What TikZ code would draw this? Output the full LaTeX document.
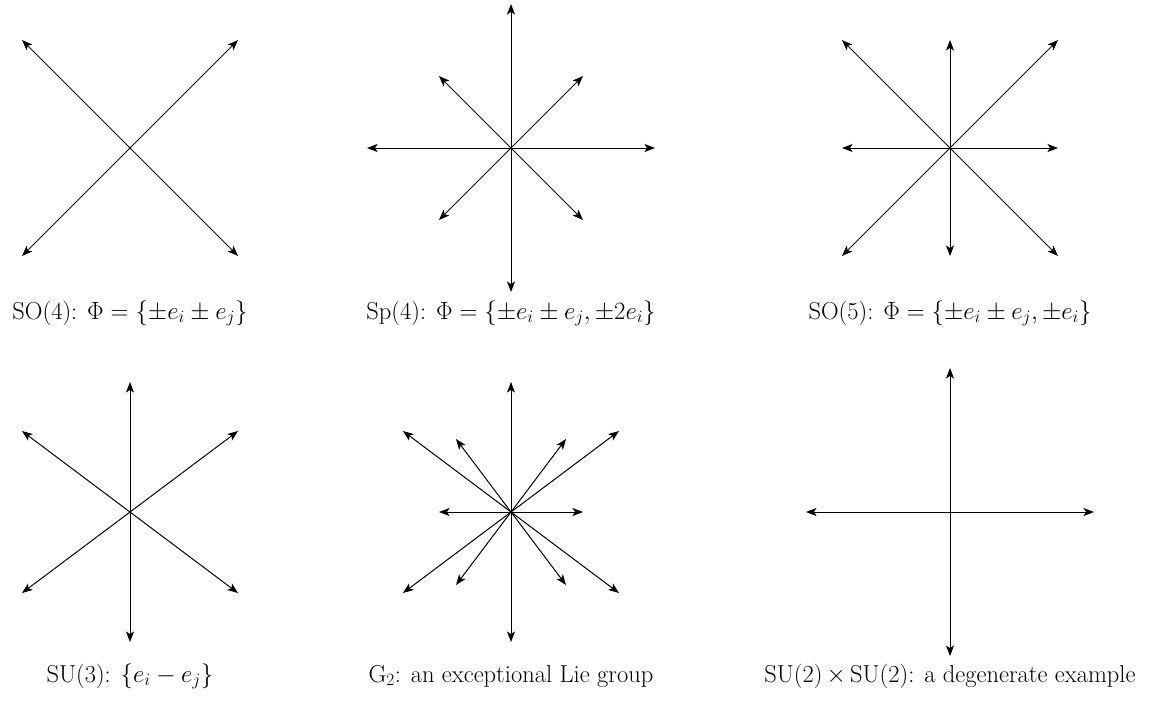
\documentclass[tikz,border=0pt]{standalone}
\usetikzlibrary{arrows.meta}
\begin{document}
\begin{tikzpicture}[x=1pt,y=-1pt,
  root/.style={line width=1pt,{Stealth[length=10.5pt,width=8pt,inset=2.5pt]}-{Stealth[length=10.5pt,width=8pt,inset=2.5pt]}},
  lab/.style={anchor=base,inner sep=0pt,font=\fontsize{24.5}{28}\selectfont}]
\useasboundingbox (0,0) rectangle (1161,702);
% ---------- Panel 1: SO(4)
\coordinate (c1) at (130,148);
\path (c1) ++(-108,-108) coordinate (p1ul) (c1) ++(108,108) coordinate (p1lr)
      (c1) ++(108,-108) coordinate (p1ur) (c1) ++(-108,108) coordinate (p1ll);
\draw[root] (p1ul) -- (p1lr);
\draw[root] (p1ur) -- (p1ll);
\node[lab] (l1) at (130,319) {SO(4): $\Phi=\{\pm e_i\pm e_j\}$};
% ---------- Panel 2: Sp(4)
\coordinate (c2) at (511,148);
\path (c2) ++(0,-144) coordinate (p2t) (c2) ++(0,144) coordinate (p2b)
      (c2) ++(-144,0) coordinate (p2l) (c2) ++(144,0) coordinate (p2r)
      (c2) ++(-72,-72) coordinate (p2ul) (c2) ++(72,72) coordinate (p2lr)
      (c2) ++(72,-72) coordinate (p2ur) (c2) ++(-72,72) coordinate (p2ll);
\draw[root] (p2t) -- (p2b);
\draw[root] (p2l) -- (p2r);
\draw[root] (p2ul) -- (p2lr);
\draw[root] (p2ur) -- (p2ll);
\node[lab] (l2) at (511,319) {Sp(4): $\Phi=\{\pm e_i\pm e_j,\pm 2e_i\}$};
% ---------- Panel 3: SO(5)
\coordinate (c3) at (950,148);
\path (c3) ++(0,-108) coordinate (p3t) (c3) ++(0,108) coordinate (p3b)
      (c3) ++(-108,0) coordinate (p3l) (c3) ++(108,0) coordinate (p3r)
      (c3) ++(-108,-108) coordinate (p3ul) (c3) ++(108,108) coordinate (p3lr)
      (c3) ++(108,-108) coordinate (p3ur) (c3) ++(-108,108) coordinate (p3ll);
\draw[root] (p3t) -- (p3b);
\draw[root] (p3l) -- (p3r);
\draw[root] (p3ul) -- (p3lr);
\draw[root] (p3ur) -- (p3ll);
\node[lab] (l3) at (950,319) {SO(5): $\Phi=\{\pm e_i\pm e_j,\pm e_i\}$};
% ---------- Panel 4: SU(3)
\coordinate (c4) at (130,512);
\path (c4) ++(0,-130) coordinate (p4t) (c4) ++(0,130) coordinate (p4b)
      (c4) ++(-108,-81) coordinate (p4ul) (c4) ++(108,81) coordinate (p4lr)
      (c4) ++(108,-81) coordinate (p4ur) (c4) ++(-108,81) coordinate (p4ll);
\draw[root] (p4t) -- (p4b);
\draw[root] (p4ul) -- (p4lr);
\draw[root] (p4ur) -- (p4ll);
\node[lab] (l4) at (130,682) {SU(3): $\{e_i-e_j\}$};
% ---------- Panel 5: G2
\coordinate (c5) at (511,512);
\path (c5) ++(0,-130) coordinate (p5t) (c5) ++(0,130) coordinate (p5b)
      (c5) ++(-72,0) coordinate (p5l) (c5) ++(72,0) coordinate (p5r)
      (c5) ++(-108,-81) coordinate (p5ul) (c5) ++(108,81) coordinate (p5lr)
      (c5) ++(108,-81) coordinate (p5ur) (c5) ++(-108,81) coordinate (p5ll)
      (c5) ++(-55,-73) coordinate (p5sul) (c5) ++(55,73) coordinate (p5slr)
      (c5) ++(55,-73) coordinate (p5sur) (c5) ++(-55,73) coordinate (p5sll);
\draw[root] (p5t) -- (p5b);
\draw[root] (p5l) -- (p5r);
\draw[root] (p5ul) -- (p5lr);
\draw[root] (p5ur) -- (p5ll);
\draw[root] (p5sul) -- (p5slr);
\draw[root] (p5sur) -- (p5sll);
\node[lab] (l5) at (511,682) {G$_2$: an exceptional Lie group};
% ---------- Panel 6: SU(2) x SU(2)
\coordinate (c6) at (950,512);
\path (c6) ++(0,-144) coordinate (p6t) (c6) ++(0,144) coordinate (p6b)
      (c6) ++(-144,0) coordinate (p6l) (c6) ++(144,0) coordinate (p6r);
\draw[root] (p6t) -- (p6b);
\draw[root] (p6l) -- (p6r);
\node[lab] (l6) at (950,682) {SU(2)$\,\times\,$SU(2): a degenerate example};
\end{tikzpicture}
\end{document}
